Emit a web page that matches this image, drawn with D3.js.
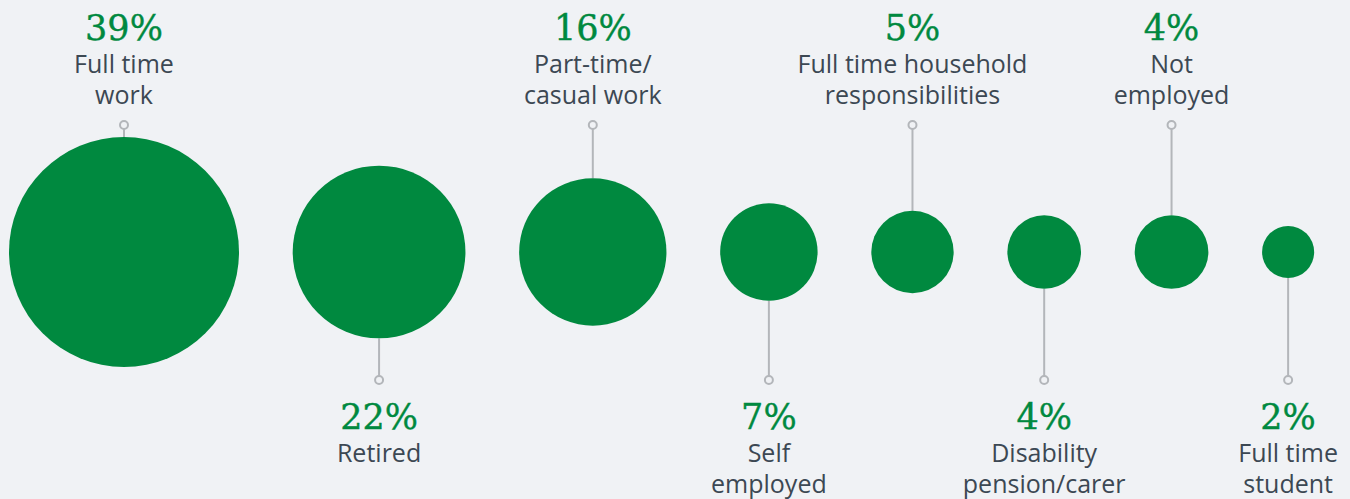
<!DOCTYPE html>
<html>
<head>
<meta charset="utf-8">
<script src="https://cdn.jsdelivr.net/npm/d3@7/dist/d3.min.js"></script>
<style>
  html, body { margin: 0; padding: 0; background: #f0f2f5; }
  svg { display: block; }
  .pct { font-family: "DejaVu Serif", serif; font-variant-numeric: oldstyle-nums; }
  .lbl { font-family: "Open Sans", "Noto Sans", sans-serif; }
</style>
</head>
<body>
<svg id="chart" width="1350" height="499"></svg>
<script>
const categories = ["Full time work", "Retired", "Part-time/casual work", "Self employed",
  "Full time household responsibilities", "Disability pension/carer", "Not employed", "Full time student"];
const labelLines = [["Full time", "work"], ["Retired"], ["Part-time/", "casual work"], ["Self", "employed"],
  ["Full time household", "responsibilities"], ["Disability", "pension/carer"], ["Not", "employed"], ["Full time", "student"]];
const values = [39, 22, 16, 7, 5, 4, 4, 2];

const W = 1350, H = 499;
const svg = d3.select("#chart");
svg.append("rect").attr("width", W).attr("height", H).attr("fill", "#f0f2f5");

const green = "#00893f", grey = "#b3b6ba", textCol = "#3c4853";
const cy = 252, gap = 53.7, x0 = 9;
const r = d3.scaleSqrt().domain([0, 39]).range([0, 115]);

let cursor = x0;
const items = values.map((v, i) => {
  const rad = r(v);
  const cx = cursor + rad;
  cursor += 2 * rad + gap;
  return { v, i, rad, cx, top: i % 2 === 0, lines: labelLines[i] };
});

const g = svg.selectAll("g.item").data(items).enter().append("g").attr("class", "item");

// stems
g.append("line")
  .attr("x1", d => d.cx).attr("x2", d => d.cx)
  .attr("y1", d => d.top ? 129 : cy + d.rad)
  .attr("y2", d => d.top ? cy - d.rad : 376)
  .attr("stroke", grey).attr("stroke-width", 2);
g.append("circle")
  .attr("cx", d => d.cx).attr("cy", d => d.top ? 125 : 380).attr("r", 4)
  .attr("fill", "#f0f2f5").attr("stroke", grey).attr("stroke-width", 2);

// bubbles
g.append("circle")
  .attr("cx", d => d.cx).attr("cy", cy).attr("r", d => d.rad)
  .attr("fill", green);

// percent
g.append("text")
  .attr("class", "pct")
  .attr("x", d => d.cx).attr("y", d => d.top ? 40 : 429)
  .attr("text-anchor", "middle")
  .attr("font-size", 35)
  .attr("fill", green)
  .attr("stroke", green).attr("stroke-width", 0.4)
  .text(d => d.v + "%");

// labels
g.each(function(d) {
  const sel = d3.select(this);
  d.lines.forEach((ln, k) => {
    sel.append("text")
      .attr("class", "lbl")
      .attr("x", d.cx).attr("y", (d.top ? 73 : 462) + k * 31)
      .attr("text-anchor", "middle")
      .attr("font-size", 25)
      .attr("fill", textCol)
      .text(ln);
  });
});
</script>
</body>
</html>
